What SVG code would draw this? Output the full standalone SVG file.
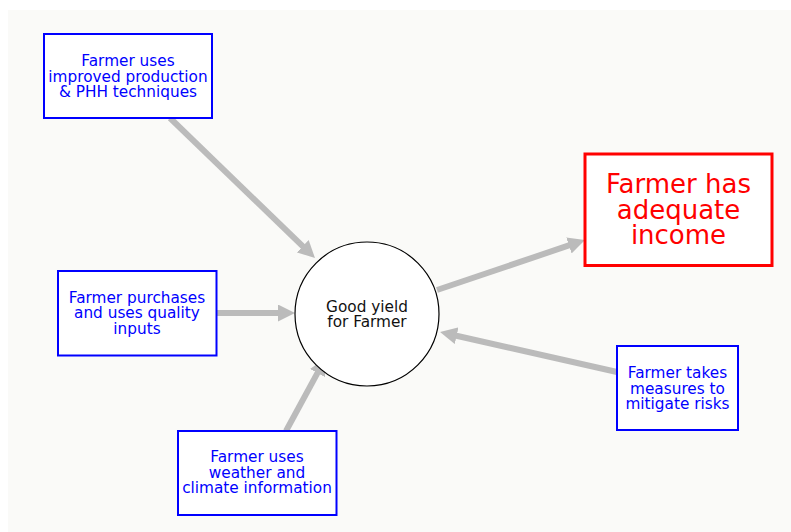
<svg xmlns="http://www.w3.org/2000/svg" width="791" height="532" viewBox="0 0 791 532">
  <style>
    .box { fill: #ffffff; stroke: #0000ff; stroke-width: 2; }
    .goal { fill: #ffffff; stroke: #ff0000; stroke-width: 3; }
    .hub { fill: #ffffff; stroke: #000000; stroke-width: 1.2; }
    .lbl { font-family: "DejaVu Sans", "Liberation Sans", sans-serif; font-size: 15.3px; fill: #0000ff; text-anchor: middle; }
    .hubl { font-family: "DejaVu Sans", "Liberation Sans", sans-serif; font-size: 15.3px; fill: #111111; text-anchor: middle; }
    .goall { font-family: "DejaVu Sans", "Liberation Sans", sans-serif; font-size: 26px; fill: #ff0000; text-anchor: middle; }
    .link { stroke: #bbbbbb; stroke-width: 6; fill: none; marker-end: url(#head); }
  </style>
  <defs>
    <marker id="head" markerUnits="userSpaceOnUse" viewBox="0 0 17 17" markerWidth="17" markerHeight="17" refX="7" refY="8.5" orient="auto">
      <path d="M0,0 L17,8.5 L0,17 z" fill="#bbbbbb"/>
    </marker>
  </defs>

  <rect x="0" y="0" width="791" height="532" fill="#ffffff"/>
  <rect x="8" y="10" width="783" height="522" fill="#fafaf8"/>

  <g id="connectors">
    <line class="link" x1="170" y1="118" x2="307.8" y2="251.1"/>
    <line class="link" x1="217" y1="313" x2="285" y2="313"/>
    <line class="link" x1="286" y1="431" x2="320.8" y2="366.9"/>
    <line class="link" x1="437" y1="290" x2="575.5" y2="243.2"/>
    <line class="link" x1="617" y1="372" x2="449.8" y2="334.2"/>
  </g>

  <g id="node-techniques">
    <rect class="box" x="44" y="34" width="168" height="84"/>
    <text class="lbl" x="128" y="66">Farmer uses</text>
    <text class="lbl" x="128" y="81.5">improved production</text>
    <text class="lbl" x="128" y="97">&amp; PHH techniques</text>
  </g>

  <g id="node-inputs">
    <rect class="box" x="58" y="271" width="158.5" height="84.5"/>
    <text class="lbl" x="137" y="302.7">Farmer purchases</text>
    <text class="lbl" x="137" y="318.2">and uses quality</text>
    <text class="lbl" x="137" y="333.7">inputs</text>
  </g>

  <g id="node-weather">
    <rect class="box" x="178" y="431" width="158.5" height="84"/>
    <text class="lbl" x="257" y="462.3">Farmer uses</text>
    <text class="lbl" x="257" y="477.8">weather and</text>
    <text class="lbl" x="257" y="493.3">climate information</text>
  </g>

  <g id="node-risks">
    <rect class="box" x="617" y="346" width="121" height="84"/>
    <text class="lbl" x="677.5" y="378.3">Farmer takes</text>
    <text class="lbl" x="677.5" y="393.8">measures to</text>
    <text class="lbl" x="677.5" y="409.3">mitigate risks</text>
  </g>

  <g id="node-yield">
    <circle class="hub" cx="367" cy="314" r="72"/>
    <text class="hubl" x="367" y="311.7">Good yield</text>
    <text class="hubl" x="367" y="327.2">for Farmer</text>
  </g>

  <g id="node-income">
    <rect class="goal" x="585" y="154" width="187" height="111.5"/>
    <text class="goall" x="678.5" y="193">Farmer has</text>
    <text class="goall" x="678.5" y="218.5">adequate</text>
    <text class="goall" x="678.5" y="244">income</text>
  </g>
</svg>
